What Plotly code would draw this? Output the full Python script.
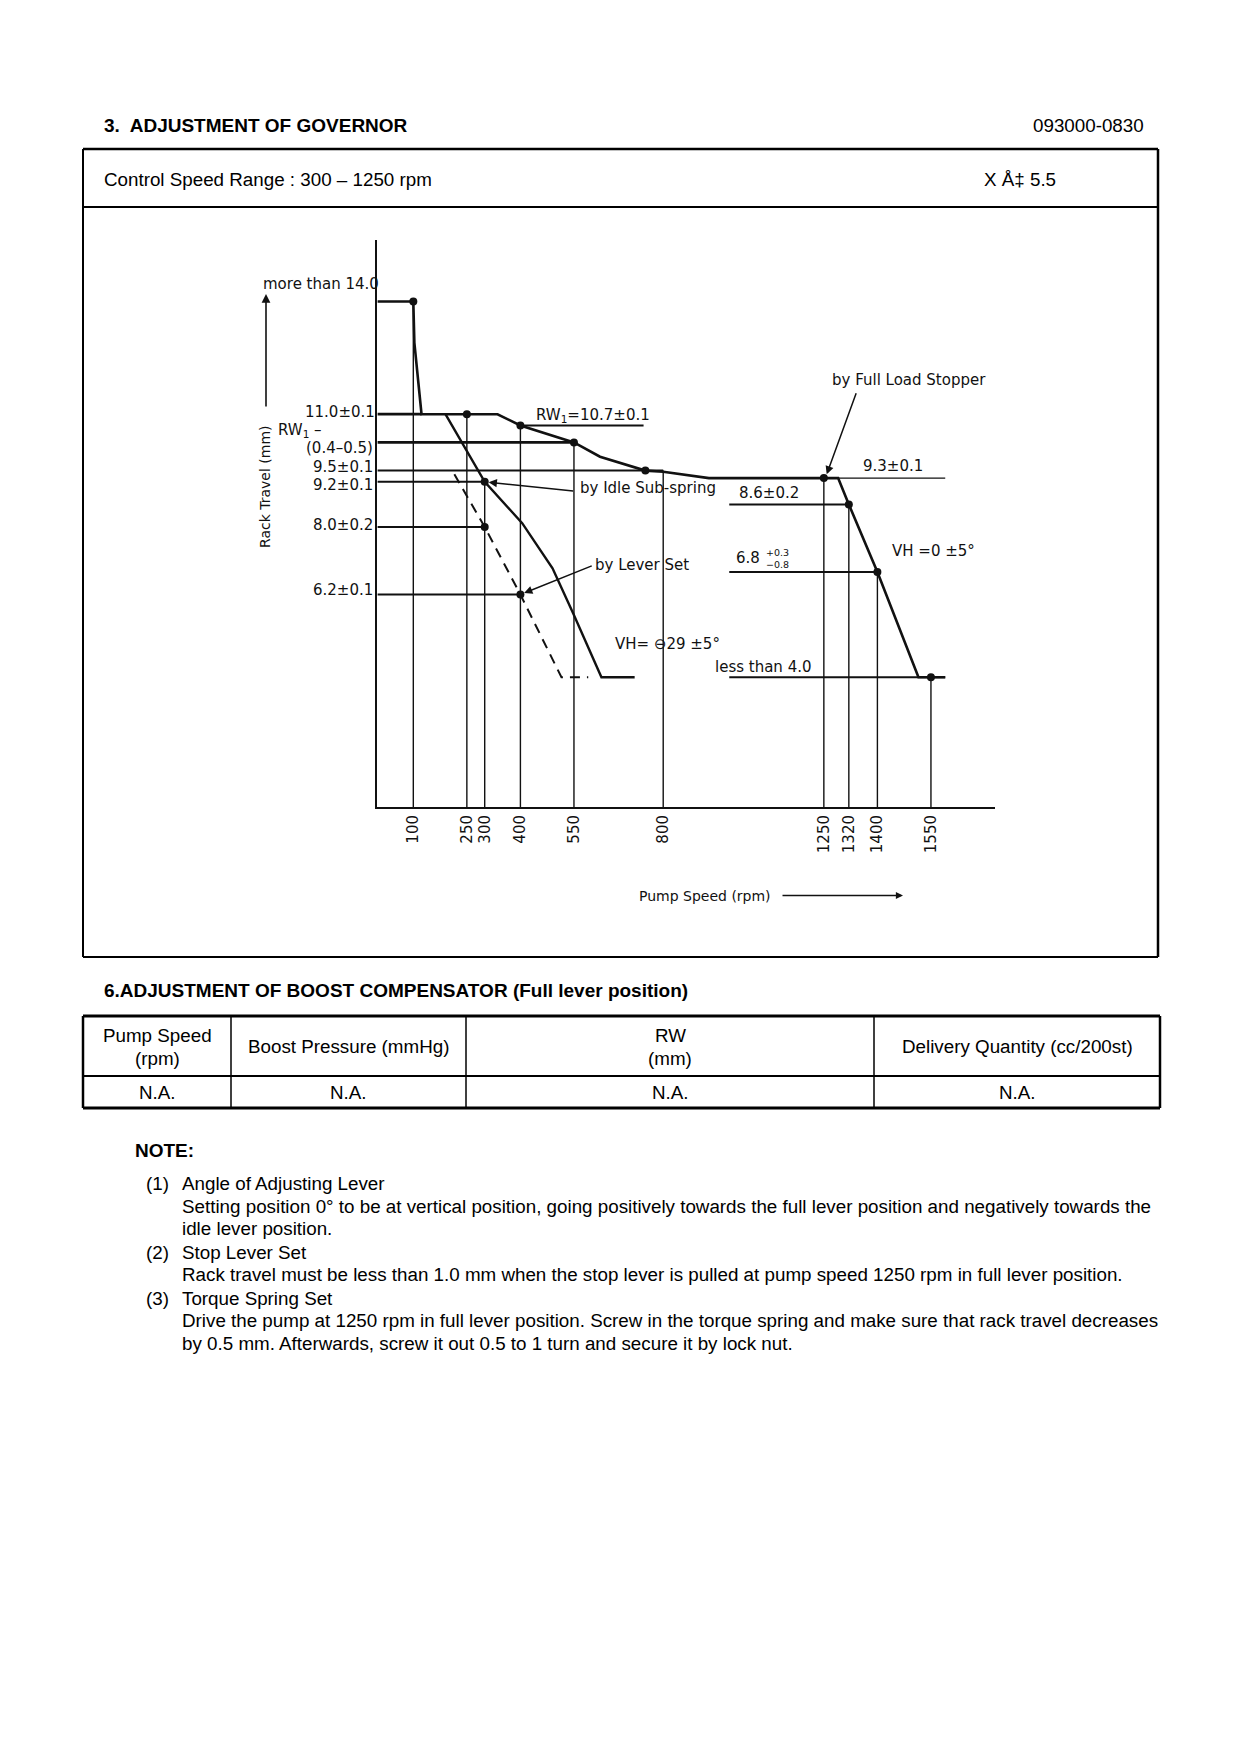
import plotly.graph_objects as go

# The page is drawn inside the browser's default 8px body margin, so the
# figure is 16px smaller than the window and positions are offset by 8px.
OFF = 8
W, H = 1240 - 2 * OFF, 1754 - 2 * OFF


def px(x):
    return (x - OFF) / W


def py(y):
    return 1 - (y - OFF) / H


# ---------------- data ----------------
TICK_RPM = [100, 250, 300, 400, 550, 800, 1250, 1320, 1400, 1550]
TICK_TEXT = ["100", "250", "300", "400", "550", "800", "1250", "1320", "1400", "1550"]
DROP_TOP = [14.0, 11.0, 9.2, 10.7, 10.25, 9.5, 9.3, 8.6, 6.8, 4.0]

FULL_RPM = [0, 100, 103, 123, 336, 400, 550, 623, 750, 800, 928, 1290, 1320, 1400, 1515, 1590]
FULL_RACK = [14.0, 14.0, 12.9, 11.0, 11.0, 10.7, 10.25, 9.87, 9.5, 9.47, 9.3, 9.3, 8.6, 6.8, 4.0, 4.0]

IDLE_RPM = [190, 300, 405, 490, 548, 627, 720]
IDLE_RACK = [11.0, 9.2, 8.1, 6.9, 5.7, 4.0, 4.0]

LEVER_RPM = [215, 300, 400, 515, 590]
LEVER_RACK = [9.4, 8.0, 6.2, 4.0, 4.0]

DOT_RPM = [100, 250, 400, 550, 750, 300, 300, 400, 1250, 1320, 1400, 1550]
DOT_RACK = [14.0, 11.0, 10.7, 10.25, 9.5, 9.2, 8.0, 6.2, 9.3, 8.6, 6.8, 4.0]

LEAD_LEVEL = [11.0, 10.25, 9.5, 9.2, 8.0, 6.2, 10.7, 9.3, 8.6, 6.8, 4.0]
LEAD_FROM = [0, 0, 0, 0, 0, 0, 400, 1250, 985, 985, 985]
LEAD_TO = [123, 550, 800, 300, 300, 400, 745, 1590, 1320, 1400, 1590]

X_RANGE = [-1.7, 1729.4]
Y_RANGE = [0.548, 15.636]

INK = "#111111"
CHART_FONT = "DejaVu Sans"
PAGE_FONT = "Liberation Sans, Arial, sans-serif"

fig = go.Figure()


def seg_trace(xs, ys, width, dash="solid"):
    fig.add_trace(go.Scatter(x=xs, y=ys, mode="lines",
                             line=dict(color=INK, width=width, dash=dash),
                             hoverinfo="skip", showlegend=False))


# vertical drop lines
vx, vy = [], []
for r, t in zip(TICK_RPM, DROP_TOP):
    vx += [r, r, None]
    vy += [t, Y_RANGE[0], None]
seg_trace(vx, vy, 1.4)

# horizontal leader lines
thick_levels = {11.0, 10.25}
for lev, a, b in zip(LEAD_LEVEL, LEAD_FROM, LEAD_TO):
    w = 2.8 if lev in thick_levels else (1.3 if lev == 9.3 else 2.0)
    seg_trace([a, b], [lev, lev], w)

# curves
seg_trace(FULL_RPM, FULL_RACK, 2.6)
seg_trace(IDLE_RPM, IDLE_RACK, 2.4)
seg_trace(LEVER_RPM, LEVER_RACK, 2.0, dash="10px,7px")

# dots
fig.add_trace(go.Scatter(x=DOT_RPM, y=DOT_RACK, mode="markers",
                         marker=dict(color=INK, size=8),
                         hoverinfo="skip", showlegend=False))

ann = []
cf = dict(family=CHART_FONT, size=15, color=INK)

# left-hand rack travel labels
left_labels = [
    ("more than 14.0", 14.0, 17, 381),
    ("11.0±0.1", 11.0, 2, 377),
    ("RW<sub>1</sub> –", 10.25, 12, 324),
    ("(0.4–0.5)", 10.25, -6, 375),
    ("9.5±0.1", 9.5, 4, 375),
    ("9.2±0.1", 9.2, -3, 375),
    ("8.0±0.2", 8.0, 2, 375),
    ("6.2±0.1", 6.2, 5, 375),
]
for txt, lev, shift, xr in left_labels:
    ann.append(dict(text=txt, xref="paper", yref="y", x=px(xr), y=lev, yshift=shift,
                    xanchor="right", yanchor="middle", showarrow=False, font=cf))

# labels in the plot
in_labels = [
    ("RW<sub>1</sub>=10.7±0.1", 603, 10.7, 10, "center"),
    ("9.3±0.1", 1443, 9.3, 12, "center"),
    ("8.6±0.2", 1096, 8.6, 11, "center"),
    ("6.8", 1038, 6.8, 14, "center"),
    ("less than 4.0", 1082, 4.0, 10, "center"),
    ("VH= ⊖29 ±5°", 812, 4.0, 33, "center"),
    ("VH =0 ±5°", 1557, 7.37, 0, "center"),
    ("by Idle Sub-spring", 562, 9.2, -6, "left"),
    ("by Lever Set", 602, 6.2, 30, "left"),
    ("by Full Load Stopper", 1488, 12.0, -3, "center"),
]
for txt, xv, yv, shift, xa in in_labels:
    ann.append(dict(text=txt, x=xv, y=yv, yshift=shift, xanchor=xa, yanchor="middle",
                    showarrow=False, font=cf))
ann.append(dict(text="+0.3<br>−0.8", x=1120, y=6.8, yshift=14, xanchor="center",
                yanchor="middle", showarrow=False,
                font=dict(family=CHART_FONT, size=9.5, color=INK)))

# leader arrows
arrow_defs = [
    (300, 9.2, 552, 8.95, 4),
    (400, 6.2, 604, 6.98, 4),
    (1258, 9.4, 1342, 11.6, 0),
]
for x0, y0, x1, y1, so in arrow_defs:
    ann.append(dict(text="", x=x0, y=y0, ax=x1, ay=y1, axref="x", ayref="y",
                    showarrow=True, arrowhead=2, arrowsize=1.1, arrowwidth=1.5,
                    arrowcolor=INK, standoff=so))

# axis titles
ann.append(dict(text="Rack Travel (mm)", xref="paper", yref="paper", x=px(265), y=py(487),
                textangle=-90, showarrow=False, xanchor="center", yanchor="middle",
                font=dict(family=CHART_FONT, size=14, color=INK)))
ann.append(dict(text="", xref="paper", yref="paper", x=px(266), y=py(294), ax=0, ay=114,
                showarrow=True, arrowhead=2, arrowsize=1.1, arrowwidth=1.6, arrowcolor=INK))
ann.append(dict(text="Pump Speed (rpm)", xref="paper", yref="paper", x=px(637), y=py(895.5),
                showarrow=False, xanchor="left", yanchor="middle",
                font=dict(family=CHART_FONT, size=14, color=INK)))
ann.append(dict(text="", xref="paper", yref="paper", x=px(903), y=py(895.5), ax=-122, ay=0,
                showarrow=True, arrowhead=2, arrowsize=1.1, arrowwidth=1.3, arrowcolor=INK))

# ---------------- page text ----------------
pf = dict(family=PAGE_FONT, size=18.8, color="#000000")
pfb = dict(family=PAGE_FONT, size=19, color="#000000", weight="bold")


def ptext(txt, x, y, anchor="left", font=pf):
    ann.append(dict(text=txt, xref="paper", yref="paper", x=px(x), y=py(y),
                    xanchor=anchor, yanchor="middle", showarrow=False, font=font))


ptext("3.  ADJUSTMENT OF GOVERNOR", 102, 125, font=pfb)
ptext("093000-0830", 1146, 125, anchor="right")
ptext("Control Speed Range : 300 – 1250 rpm", 102, 179)
ptext("X Å‡ 5.5", 982, 179)

ptext("6.ADJUSTMENT OF BOOST COMPENSATOR (Full lever position)", 102, 990.5, font=pfb)

TABLE_HEAD = [["Pump Speed", "(rpm)"], ["Boost Pressure (mmHg)"], ["RW", "(mm)"],
              ["Delivery Quantity (cc/200st)"]]
TABLE_ROW = ["N.A.", "N.A.", "N.A.", "N.A."]
col_edges = [83, 231, 466, 874, 1160]
for i, head in enumerate(TABLE_HEAD):
    cx = (col_edges[i] + col_edges[i + 1]) / 2
    if len(head) == 2:
        ptext(head[0], cx, 1035, anchor="center")
        ptext(head[1], cx, 1058, anchor="center")
    else:
        ptext(head[0], cx, 1046.5, anchor="center")
    ptext(TABLE_ROW[i], cx, 1092.3, anchor="center")

ptext("NOTE:", 133, 1150.5, font=pfb)
notes = [
    ("(1)", "Angle of Adjusting Lever", 1183),
    ("", "Setting position 0° to be at vertical position, going positively towards the full lever position and negatively towards the", 1206.3),
    ("", "idle lever position.", 1228.7),
    ("(2)", "Stop Lever Set", 1252.2),
    ("", "Rack travel must be less than 1.0 mm when the stop lever is pulled at pump speed 1250 rpm in full lever position.", 1274.5),
    ("(3)", "Torque Spring Set", 1298),
    ("", "Drive the pump at 1250 rpm in full lever position. Screw in the torque spring and make sure that rack travel decreases", 1320.4),
    ("", "by 0.5 mm. Afterwards, screw it out 0.5 to 1 turn and secure it by lock nut.", 1343.9),
]
for num, txt, y in notes:
    if num:
        ptext(num, 144, y)
    ptext(txt, 180, y)

# ---------------- page shapes ----------------
shapes = []


def pline(x0, y0, x1, y1, w=2):
    shapes.append(dict(type="line", xref="paper", yref="paper", x0=px(x0), y0=py(y0),
                       x1=px(x1), y1=py(y1), line=dict(color="#000000", width=w)))


# governor box
pline(83, 149, 1158, 149, 2.5)
pline(83, 207, 1158, 207, 2)
pline(83, 957, 1158, 957, 2)
pline(83, 149, 83, 957, 2)
pline(1158, 149, 1158, 957, 2.5)
# table
pline(83, 1016, 1160, 1016, 3)
pline(83, 1076, 1160, 1076, 2)
pline(83, 1108, 1160, 1108, 3)
pline(83, 1016, 83, 1108, 2.5)
pline(1160, 1016, 1160, 1108, 2.5)
for cx in col_edges[1:-1]:
    pline(cx, 1016, cx, 1108, 1.5)

fig.update_layout(
    width=W, height=H, autosize=False,
    margin=dict(l=0, r=0, t=0, b=0),
    paper_bgcolor="white", plot_bgcolor="white",
    showlegend=False,
    xaxis=dict(domain=[px(377), px(995)], range=X_RANGE, showgrid=False, zeroline=False,
               showline=True, linecolor=INK, linewidth=2,
               tickmode="array", tickvals=TICK_RPM, ticktext=TICK_TEXT, tickangle=-90,
               ticks="", ticklabelstandoff=0,
               tickfont=dict(family=CHART_FONT, size=15, color=INK), fixedrange=True),
    yaxis=dict(domain=[py(807), py(240)], range=Y_RANGE, showgrid=False, zeroline=False,
               showline=True, linecolor=INK, linewidth=2, showticklabels=False, ticks="",
               fixedrange=True),
    annotations=ann,
    shapes=shapes,
)

fig.write_html("out.html")
